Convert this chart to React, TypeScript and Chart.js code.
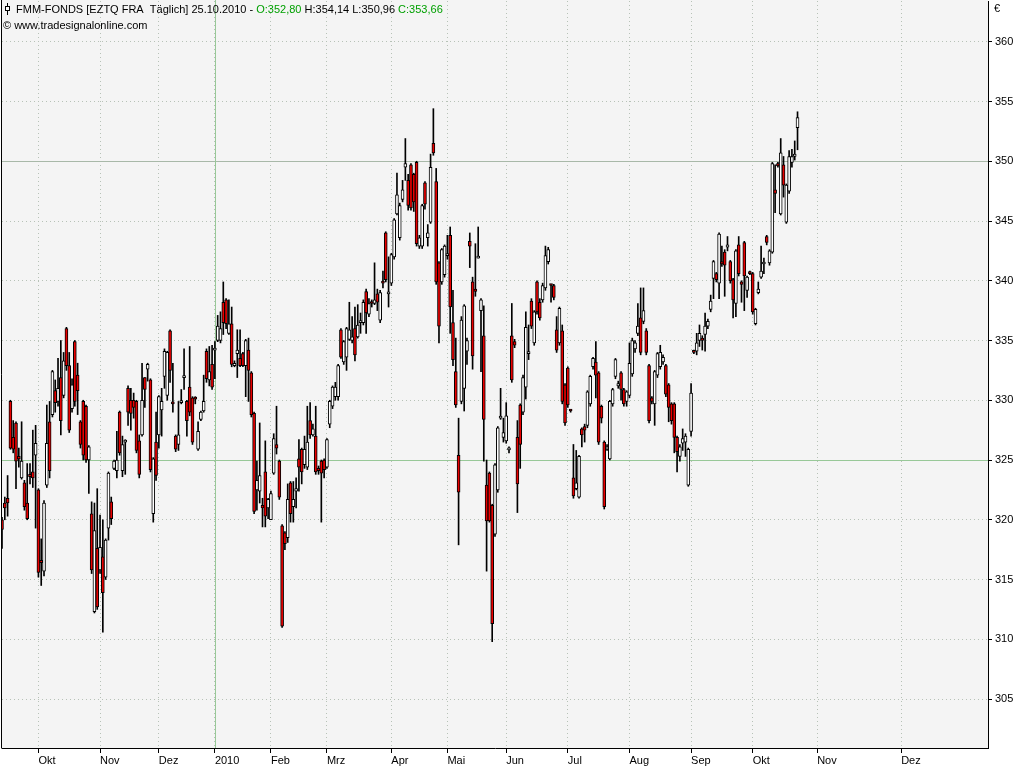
import React, { useEffect, useRef } from "react";
import { Chart, registerables } from "chart.js";

Chart.register(...registerables);

// Trading-day candles (index 0 = 14.09.2009 ... index 284 = 25.10.2010)
const OPEN = [
  320.0, 321.4, 321.8, 329.9, 326.9, 328.1, 325.3, 323.5, 323.1, 321.4,
  323.8, 324.0, 325.4, 322.5, 316.6, 315.7, 322.9, 328.2, 328.8, 330.8,
  329.9, 331.9, 330.4, 336.0, 332.9, 329.3, 334.9, 332.1, 328.2, 329.9,
  329.5, 325.0, 320.5, 312.3, 317.6, 315.8, 316.9, 315.2, 319.3, 321.5,
  324.3, 324.1, 329.0, 324.1, 326.5, 331.0, 330.0, 330.0, 329.9, 326.6,
  327.1, 331.9, 332.6, 331.7, 320.5, 326.5, 327.1, 329.2, 332.0, 330.4,
  335.8, 329.8, 327.0, 326.3, 329.8, 331.9, 329.9, 331.1, 330.2, 330.2,
  325.9, 328.4, 329.1, 334.1, 331.7, 333.0, 334.2, 335.0, 335.0, 338.2,
  338.4, 335.6, 336.4, 332.9, 333.9, 333.5, 333.9, 332.9, 334.2, 332.3,
  328.9, 322.5, 322.4, 321.2, 324.0, 321.0, 320.0, 323.9, 326.3, 324.9,
  319.5, 318.9, 318.5, 323.1, 321.1, 322.4, 325.1, 325.9, 324.6, 324.4,
  328.3, 327.1, 327.0, 324.3, 324.9, 325.0, 324.4, 328.0, 329.5, 330.3,
  330.3, 335.9, 333.2, 333.6, 335.1, 335.0, 336.0, 335.3, 336.5, 336.5,
  339.1, 337.2, 338.2, 338.1, 338.9, 336.7, 339.9, 344.0, 338.9, 339.8,
  342.0, 345.6, 343.6, 346.8, 349.5, 348.4, 349.7, 348.9, 349.9, 342.9,
  342.9, 348.2, 343.6, 344.9, 351.5, 348.3, 341.5, 339.9, 340.5, 342.1,
  343.8, 336.5, 332.4, 325.4, 329.9, 331.0, 334.1, 343.3, 339.9, 339.3,
  341.9, 337.5, 335.4, 322.9, 323.9, 321.2, 318.8, 322.5, 328.5, 326.9,
  326.6, 325.85, 335.4, 334.9, 326.9, 329.6, 329.0, 331.1, 333.9, 338.3,
  334.8, 339.9, 338.2, 338.4, 339.4, 341.6, 339.7, 339.6, 335.9, 334.8,
  335.8, 331.3, 332.7, 329.15, 323.5, 322.6, 321.9, 327.6, 327.8, 327.9,
  329.7, 332.8, 333.2, 332.3, 329.5, 326.5, 325.9, 325.1, 329.7, 332.0,
  331.2, 332.3, 330.9, 329.9, 330.4, 332.2, 334.3, 335.6, 336.9, 336.6,
  335.8, 332.9, 330.2, 329.7, 332.1, 332.8, 333.2, 332.9, 331.3, 329.7,
  329.7, 326.9, 325.3, 326.4, 326.5, 322.9, 327.4, 334.1, 334.1, 335.0,
  335.2, 335.5, 336.2, 337.6, 340.2, 340.6, 339.8, 341.6, 342.4, 342.8,
  341.6, 340.1, 338.1, 343.0, 339.9, 343.2, 339.2, 340.7, 340.6, 336.4,
  339.0, 340.3, 341.4, 343.7, 341.5, 342.4, 347.6, 349.8, 345.6, 349.7,
  344.9, 347.5, 349.9, 350.4, 352.8,
];
const HIGH = [
  320.2, 321.9, 323.7, 330.0, 328.3, 328.2, 326.0, 328.2, 323.3, 324.7,
  324.7, 327.5, 327.9, 322.6, 318.4, 321.6, 329.6, 329.9, 332.5, 331.7,
  333.5, 335.0, 334.0, 336.1, 334.0, 331.8, 335.0, 333.1, 328.3, 330.0,
  329.6, 326.2, 321.5, 321.4, 322.6, 320.4, 320.0, 318.4, 324.0, 321.9,
  325.0, 327.4, 329.1, 327.0, 326.7, 331.2, 331.0, 330.6, 330.0, 327.1,
  333.1, 331.9, 333.1, 331.8, 325.2, 329.0, 330.4, 331.0, 334.3, 334.1,
  335.9, 333.1, 327.1, 329.9, 330.9, 334.3, 330.0, 334.5, 330.3, 330.3,
  328.2, 329.1, 332.1, 334.3, 334.5, 334.6, 334.9, 337.1, 337.4, 339.9,
  338.5, 338.4, 337.8, 333.3, 335.9, 335.9, 334.0, 335.1, 335.2, 332.4,
  329.0, 324.9, 328.1, 321.8, 326.6, 321.8, 322.4, 327.2, 329.5, 325.0,
  319.6, 319.0, 323.0, 323.2, 323.2, 323.5, 326.7, 326.0, 327.0, 329.5,
  329.8, 328.0, 329.5, 324.5, 325.0, 325.1, 326.8, 330.0, 331.2, 331.5,
  333.0, 336.0, 335.0, 336.1, 338.2, 337.0, 337.8, 338.0, 337.3, 338.4,
  339.3, 338.5, 338.4, 341.5, 339.3, 339.2, 340.8, 344.1, 342.0, 342.3,
  345.2, 349.0, 346.5, 348.4, 351.9, 348.9, 349.8, 349.0, 350.0, 343.8,
  346.4, 348.3, 344.7, 350.6, 354.4, 349.4, 341.6, 342.7, 343.0, 343.8,
  344.5, 339.2, 335.2, 328.5, 337.0, 338.0, 335.2, 344.0, 340.3, 343.1,
  344.5, 338.5, 337.9, 325.0, 324.0, 321.3, 324.7, 327.8, 331.0, 328.5,
  329.8, 326.1, 338.1, 335.1, 328.3, 329.7, 332.1, 337.4, 336.3, 338.5,
  337.5, 340.0, 338.5, 339.8, 342.9, 342.8, 339.7, 339.7, 337.0, 337.8,
  336.3, 331.4, 332.8, 329.2, 326.3, 325.8, 325.4, 327.7, 328.0, 330.8,
  332.1, 333.6, 334.9, 332.4, 329.6, 326.6, 326.3, 330.0, 331.0, 333.5,
  331.6, 332.4, 331.0, 330.8, 334.8, 335.2, 335.0, 338.1, 339.4, 339.4,
  336.0, 333.0, 330.3, 332.5, 334.0, 334.6, 333.8, 333.0, 331.4, 329.8,
  329.8, 327.0, 326.3, 327.6, 327.2, 326.0, 331.4, 334.2, 335.6, 336.3,
  335.4, 337.3, 336.8, 338.8, 341.7, 340.7, 344.0, 342.9, 342.6, 343.7,
  341.7, 340.2, 342.6, 343.7, 340.0, 343.3, 340.4, 340.8, 340.7, 337.7,
  339.9, 342.9, 341.9, 343.8, 342.6, 349.9, 349.7, 349.9, 351.9, 350.4,
  348.1, 350.9, 351.0, 351.7, 354.14,
];
const LOW = [
  317.6, 320.0, 320.3, 325.9, 325.6, 322.6, 324.4, 323.4, 320.8, 320.0,
  323.0, 322.7, 319.3, 315.2, 314.5, 315.3, 322.7, 323.5, 328.6, 329.0,
  329.5, 327.1, 330.2, 332.5, 327.3, 329.0, 329.5, 328.8, 326.0, 325.0,
  324.8, 322.2, 315.5, 312.2, 312.5, 315.5, 310.6, 315.0, 318.3, 319.6,
  324.2, 323.5, 325.4, 323.6, 323.8, 327.9, 327.5, 328.5, 325.6, 323.5,
  327.0, 329.4, 331.6, 324.0, 319.8, 323.3, 326.0, 327.0, 331.0, 330.0,
  331.5, 329.0, 325.7, 325.8, 329.7, 330.9, 327.0, 328.7, 326.3, 329.7,
  325.8, 328.3, 329.0, 331.5, 331.2, 330.9, 331.8, 334.9, 334.8, 335.5,
  336.0, 335.5, 332.8, 332.8, 331.9, 332.8, 332.8, 330.3, 329.9, 328.6,
  320.5, 320.8, 321.4, 319.4, 319.4, 320.1, 320.0, 323.8, 325.5, 321.7,
  311.0, 317.5, 318.1, 319.8, 319.8, 321.0, 322.4, 323.0, 324.3, 324.2,
  326.8, 327.0, 323.8, 323.8, 319.8, 323.5, 324.3, 327.7, 329.3, 330.0,
  330.0, 333.5, 333.0, 332.5, 335.0, 334.8, 333.3, 335.2, 335.6, 336.3,
  335.6, 337.0, 337.8, 338.0, 337.5, 336.5, 339.4, 339.9, 337.8, 339.6,
  341.8, 345.5, 343.4, 346.6, 348.4, 345.9, 345.9, 345.8, 342.9, 342.7,
  342.7, 346.0, 342.9, 344.8, 350.5, 339.7, 334.8, 339.7, 340.3, 341.8,
  335.6, 332.9, 329.4, 317.9, 329.7, 329.1, 333.0, 341.1, 332.6, 338.7,
  341.9, 332.4, 324.9, 315.7, 319.8, 309.8, 318.6, 322.3, 328.4, 326.5,
  326.4, 325.6, 331.5, 334.4, 320.6, 324.3, 328.8, 330.1, 333.4, 336.0,
  334.6, 337.2, 336.7, 338.2, 339.2, 341.4, 338.2, 338.4, 334.0, 334.6,
  329.7, 327.9, 329.4, 329.0, 321.8, 322.5, 321.8, 326.1, 326.5, 327.7,
  329.5, 332.6, 330.2, 326.3, 328.1, 320.9, 325.8, 325.0, 329.5, 331.8,
  331.0, 330.0, 329.5, 329.5, 330.2, 332.0, 334.0, 335.4, 333.8, 336.4,
  333.8, 328.1, 329.7, 327.9, 331.9, 332.6, 333.0, 330.3, 328.2, 328.0,
  325.6, 324.0, 324.9, 325.8, 325.3, 322.8, 327.0, 333.9, 333.8, 334.5,
  334.2, 334.1, 336.0, 337.4, 338.5, 339.9, 338.5, 341.2, 338.7, 342.5,
  339.8, 336.9, 337.0, 340.4, 338.2, 337.5, 338.6, 340.5, 337.2, 336.3,
  338.9, 340.2, 340.6, 343.0, 341.3, 342.3, 345.7, 349.5, 345.5, 347.0,
  344.8, 347.3, 349.5, 350.1, 350.96,
];
const CLOSE = [
  319.2, 321.0, 321.4, 326.0, 325.9, 324.9, 325.1, 324.9, 321.1, 320.1,
  323.6, 323.5, 326.4, 315.6, 316.4, 321.4, 326.4, 324.1, 332.4, 329.8,
  331.0, 328.3, 333.3, 332.9, 327.5, 331.3, 329.9, 330.8, 326.3, 325.4,
  325.0, 326.1, 315.8, 319.1, 312.7, 317.7, 313.9, 318.3, 323.9, 320.1,
  324.9, 325.0, 325.6, 326.3, 326.6, 329.0, 328.9, 329.4, 325.8, 323.8,
  330.0, 330.9, 333.0, 324.2, 325.1, 323.7, 330.3, 329.9, 334.1, 334.0,
  332.5, 329.7, 325.9, 327.1, 329.9, 332.0, 328.3, 329.0, 326.5, 330.1,
  327.4, 329.0, 329.9, 331.8, 332.4, 331.1, 334.3, 336.2, 336.0, 336.5,
  336.4, 336.4, 333.0, 333.1, 334.2, 332.9, 332.9, 335.0, 332.5, 328.8,
  320.7, 323.3, 323.7, 321.0, 320.3, 321.7, 322.2, 326.8, 326.0, 321.9,
  311.1, 318.0, 321.7, 320.5, 321.7, 322.6, 324.4, 324.0, 325.9, 326.5,
  327.1, 327.6, 324.0, 324.1, 323.9, 324.2, 326.7, 329.9, 331.1, 331.1,
  332.9, 333.6, 334.9, 336.0, 335.9, 335.3, 333.8, 336.3, 336.6, 338.2,
  337.3, 338.1, 338.1, 338.4, 338.2, 339.0, 339.8, 340.1, 339.0, 342.2,
  345.1, 347.2, 346.3, 347.6, 349.8, 346.3, 346.1, 346.6, 343.1, 343.6,
  346.3, 346.4, 344.0, 349.5, 350.7, 339.9, 336.2, 342.6, 342.9, 342.2,
  337.8, 333.4, 329.6, 322.3, 336.7, 337.9, 335.0, 342.9, 333.7, 339.1,
  342.0, 338.4, 328.4, 319.9, 319.9, 311.3, 324.6, 327.7, 328.6, 327.3,
  328.7, 325.9, 331.7, 334.6, 323.0, 326.3, 331.9, 336.1, 334.0, 336.2,
  337.4, 337.4, 336.9, 339.6, 342.1, 342.6, 339.6, 338.6, 334.2, 337.7,
  329.9, 328.1, 329.6, 329.1, 322.0, 323.1, 325.3, 327.1, 327.5, 330.7,
  332.0, 333.5, 332.1, 326.5, 328.5, 321.1, 326.1, 329.9, 330.9, 333.4,
  331.4, 330.9, 329.7, 330.7, 333.1, 335.0, 334.8, 336.2, 334.0, 337.5,
  334.0, 328.3, 329.9, 332.4, 333.9, 334.0, 333.6, 330.5, 329.4, 328.3,
  326.9, 325.7, 326.1, 326.8, 327.0, 325.9, 330.6, 334.0, 334.8, 335.6,
  335.0, 336.2, 336.6, 338.3, 341.6, 340.1, 343.9, 341.4, 341.3, 343.0,
  340.0, 338.4, 342.5, 340.6, 339.7, 340.4, 340.3, 340.6, 337.4, 337.6,
  339.3, 340.8, 341.5, 343.2, 342.5, 349.8, 347.3, 349.6, 350.7, 348.0,
  348.0, 350.4, 350.4, 350.6, 353.66,
];

// x axis: trading-day index of each month start (future part in calendar days)
const MONTH_TICKS = [13, 35, 56, 76, 96, 116, 139, 159, 180, 202, 224, 246, 268, 291, 321];
const MONTH_LABELS = ["Okt", "Nov", "Dez", "2010", "Feb", "Mrz", "Apr", "Mai", "Jun", "Jul", "Aug", "Sep", "Okt", "Nov", "Dez"];
const YEAR_TICK = 76;
const PRICE_TICKS = [305, 310, 315, 320, 325, 330, 335, 340, 345, 350, 355, 360];
const REF_LEVELS = [325, 350];

const X_MIN = 0;
const X_MAX = 352;
const Y_MIN = 300.9;
const Y_MAX = 363.41;

const FONT = '"Liberation Sans", Arial, sans-serif';
const GRID_DOT = "#b7c2b7";
const REF_GREEN = "#98c898";
const REF_GRAY_GREEN = "#a8b8a8";
const UP_FILL = "#ffffff";
const DOWN_FILL = "#e80000";

const HEADER_PARTS: [string, string][] = [
  ["FMM-FONDS [EZTQ FRA  Täglich] 25.10.2010 - ", "#000000"],
  ["O:352,80", "#00a000"],
  [" H:354,14 L:350,96 ", "#000000"],
  ["C:353,66", "#00a000"],
];
const SUBTITLE = "© www.tradesignalonline.com";

export default function App() {
  const canvasRef = useRef<HTMLCanvasElement | null>(null);

  useEffect(() => {
    const canvas = canvasRef.current;
    if (!canvas) return;

    const wicks = OPEN.map((_, i) => ({ x: i, y: [LOW[i], HIGH[i]] }));
    const bodies = OPEN.map((o, i) => ({ x: i, y: [o, CLOSE[i]] }));
    const bodyColors = OPEN.map((o, i) => (CLOSE[i] >= o ? UP_FILL : DOWN_FILL));

    const backgroundPlugin = {
      id: "plotBackground",
      beforeDraw(chart: any) {
        const { ctx, chartArea } = chart;
        ctx.save();
        ctx.fillStyle = "#ffffff";
        ctx.fillRect(0, 0, chart.width, chart.height);
        ctx.fillStyle = "#f4f4f4";
        ctx.fillRect(chartArea.left, 0, chartArea.right - chartArea.left, chartArea.bottom);
        ctx.restore();
      },
    };

    const refLinesPlugin = {
      id: "refLines",
      beforeDatasetsDraw(chart: any) {
        const { ctx, chartArea, scales } = chart;
        ctx.save();
        ctx.lineWidth = 1;
        REF_LEVELS.forEach((lvl, k) => {
          ctx.strokeStyle = k === 0 ? REF_GREEN : REF_GRAY_GREEN;
          const y = Math.round(scales.y.getPixelForValue(lvl)) + 0.5;
          ctx.beginPath();
          ctx.moveTo(chartArea.left, y);
          ctx.lineTo(chartArea.right, y);
          ctx.stroke();
        });
        ctx.strokeStyle = REF_GREEN;
        const x = Math.round(scales.x.getPixelForValue(YEAR_TICK)) + 0.5;
        ctx.beginPath();
        ctx.moveTo(x, 0);
        ctx.lineTo(x, chartArea.bottom);
        ctx.stroke();
        ctx.restore();
      },
    };

    const framePlugin = {
      id: "frame",
      afterDraw(chart: any) {
        const { ctx, chartArea } = chart;
        ctx.save();
        ctx.strokeStyle = "#000000";
        ctx.lineWidth = 1;
        const lx = Math.round(chartArea.left) - 0.5;
        ctx.beginPath();
        ctx.moveTo(lx, 0);
        ctx.lineTo(lx, Math.round(chartArea.bottom) + 0.5);
        ctx.stroke();

        // header
        ctx.font = `11px ${FONT}`;
        ctx.textBaseline = "middle";
        // small candle icon
        ctx.beginPath();
        ctx.moveTo(7.5, 3);
        ctx.lineTo(7.5, 15);
        ctx.stroke();
        ctx.fillStyle = "#ffffff";
        ctx.fillRect(5, 6, 5, 5);
        ctx.strokeRect(5.5, 6.5, 4, 4);
        let x = 16;
        HEADER_PARTS.forEach(([txt, col]) => {
          ctx.fillStyle = col;
          ctx.fillText(txt, x, 10);
          x += ctx.measureText(txt).width;
        });
        ctx.fillStyle = "#000000";
        ctx.fillText(SUBTITLE, 3, 26);
        ctx.fillText("€", chartArea.right + 6, 9);
        ctx.restore();
      },
    };

    const chart = new Chart(canvas, {
      type: "bar",
      data: {
        datasets: [
          {
            label: "Docht",
            data: wicks as any,
            backgroundColor: "#000000",
            borderWidth: 0,
            barThickness: 1,
            grouped: false,
            order: 1,
          } as any,
          {
            label: "Kerze",
            data: bodies as any,
            backgroundColor: bodyColors,
            borderColor: "#000000",
            borderWidth: 1,
            borderSkipped: false,
            barThickness: 3,
            minBarLength: 2,
            grouped: false,
            order: 0,
          } as any,
        ],
      },
      options: {
        animation: false,
        responsive: false,
        events: [],
        layout: { padding: { left: 2, top: 1, right: 0, bottom: 0 } },
        plugins: {
          legend: { display: false },
          tooltip: { enabled: false },
        },
        scales: {
          x: {
            type: "linear",
            min: X_MIN,
            max: X_MAX,
            offset: false,
            afterBuildTicks: (s: any) => {
              s.ticks = MONTH_TICKS.map((v) => ({ value: v }));
            },
            afterFit: (s: any) => {
              s.height = 20;
              s.paddingLeft = 0;
              s.paddingRight = 0;
            },
            ticks: {
              autoSkip: false,
              maxRotation: 0,
              minRotation: 0,
              align: "start",
              padding: 1,
              color: "#000000",
              font: { family: FONT, size: 11 },
              callback: (_v: any, i: number) => MONTH_LABELS[i],
            },
            grid: {
              color: GRID_DOT,
              lineWidth: 1,
              offset: false,
              drawTicks: true,
              tickLength: 5,
              tickColor: "#000000",
              tickBorderDash: [],
            },
            border: { display: true, color: "#000000", width: 1, dash: [1, 3] },
          } as any,
          y: {
            type: "linear",
            position: "right",
            min: Y_MIN,
            max: Y_MAX,
            afterBuildTicks: (s: any) => {
              s.ticks = PRICE_TICKS.map((v) => ({ value: v }));
            },
            afterFit: (s: any) => {
              s.width = 36;
              s.paddingTop = 0;
              s.paddingBottom = 0;
            },
            ticks: {
              padding: 3,
              color: "#000000",
              font: { family: FONT, size: 11 },
              callback: (v: any) => String(v),
            },
            grid: {
              color: GRID_DOT,
              lineWidth: 1,
              drawTicks: true,
              tickLength: 4,
              tickColor: "#000000",
              tickBorderDash: [],
            },
            border: { display: true, color: "#000000", width: 1, dash: [1, 3] },
          } as any,
        },
      },
      plugins: [backgroundPlugin, refLinesPlugin, framePlugin],
    });

    return () => chart.destroy();
  }, []);

  return (
    <div style={{ position: "fixed", left: 0, top: 0, width: 1024, height: 768, background: "#ffffff" }}>
      <canvas ref={canvasRef} width={1024} height={768} style={{ display: "block" }} />
    </div>
  );
}
